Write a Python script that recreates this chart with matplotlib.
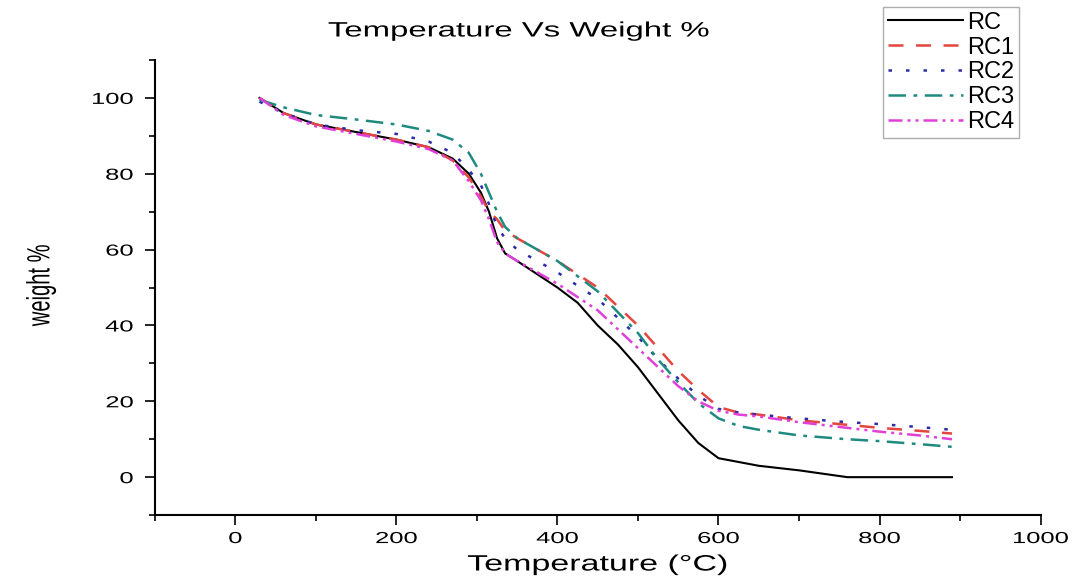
import matplotlib.pyplot as plt
from matplotlib.ticker import MultipleLocator
from matplotlib.patheffects import AbstractPathEffect
from matplotlib.transforms import Affine2D

plt.rcParams['font.family'] = ['Liberation Sans', 'DejaVu Sans']

# temperature points (C)
temp = [30, 60, 100, 150, 200, 240, 270, 290, 305, 315, 325, 335, 350, 375, 400, 425, 450, 475, 500,
        525, 550, 575, 600, 625, 650, 700, 760, 800, 850, 890]

rc = [100, 96, 93, 91, 89, 87, 84, 80, 75, 70, 63, 59, 57, 53.5, 50, 46, 40, 35, 29,
      22, 15, 9, 5, 4, 3, 1.8, 0, 0, 0, 0]
rc1 = [100, 96, 93, 91, 89, 87, 83.5, 79, 74, 70, 68, 65, 63, 60, 57, 53.5, 50, 45, 40,
       34, 28, 23, 18.5, 17, 16.5, 15, 13.8, 13, 12.2, 11.5]
rc2 = [99, 96, 93, 91.5, 90.5, 88.5, 85.5, 81, 77, 72, 66, 63, 60, 57, 54, 50.5, 47, 42, 37,
       31, 26, 21.5, 18, 17, 16.5, 15.5, 14.5, 14, 13.2, 12.5]
rc3 = [99.5, 97.5, 95.5, 94.3, 93, 91.3, 89, 85.5, 80, 75, 70, 66, 63, 60, 57, 53, 49, 43.5, 38,
       31, 25, 19.5, 15.5, 13.5, 12.5, 11, 10, 9.5, 8.7, 8]
rc4 = [100, 95.5, 92.5, 90.5, 88.5, 86.5, 83.5, 78, 73, 68, 62, 59, 57, 54, 51, 47.5, 44, 39, 34,
       29, 24, 20, 17.5, 16.5, 16, 14.5, 13, 12, 11, 10]

labels = ["RC", "RC1", "RC2", "RC3", "RC4"]


class Stretch(AbstractPathEffect):
    # widen text glyphs sideways (the source picture is stretched)
    def __init__(self, sx, anchor="center"):
        super().__init__()
        self.sx = sx
        self.anchor = anchor

    def draw_path(self, renderer, gc, tpath, affine, rgbFace=None):
        ext = affine.transform_path(tpath).get_extents()
        if self.anchor == "right":
            cx = ext.x1
        elif self.anchor == "left":
            cx = ext.x0
        else:
            cx = (ext.x0 + ext.x1) / 2
        aff = affine + Affine2D().translate(-cx, 0).scale(self.sx, 1).translate(cx, 0)
        renderer.draw_path(gc, tpath, aff, rgbFace)


fig = plt.figure(figsize=(10.75, 5.88), dpi=100)
ax = fig.add_axes([0.144, 0.124, 0.824, 0.774])

ax.plot(temp, rc, color="black", lw=1.5, label=labels[0])
ax.plot(temp, rc1, color="#e5453f", lw=1.8, dashes=(6, 5), label=labels[1])
ax.plot(temp, rc2, color="#2c2ca8", lw=1.8, dashes=(1.4, 5.6), label=labels[2])
ax.plot(temp, rc3, color="#1f8a80", lw=1.8, dashes=(7, 3, 1.5, 3), label=labels[3])
ax.plot(temp, rc4, color="#e040d8", lw=1.8, dashes=(5.6, 2, 1.2, 2, 1.2, 2), label=labels[4])

ax.set_xlim(-100, 1000)
ax.set_ylim(-10, 110)
ax.xaxis.set_major_locator(MultipleLocator(200))
ax.xaxis.set_minor_locator(MultipleLocator(100))
ax.yaxis.set_major_locator(MultipleLocator(20))
ax.yaxis.set_minor_locator(MultipleLocator(10))
ax.set_yticks([0, 20, 40, 60, 80, 100])
ax.spines['top'].set_visible(False)
ax.spines['right'].set_visible(False)
ax.spines['left'].set_linewidth(1.5)
ax.spines['bottom'].set_linewidth(1.5)
ax.tick_params(which='major', direction='out', length=7.5, width=1.2, labelsize=11.5)
ax.tick_params(axis='y', which='major', pad=8)
ax.tick_params(axis='x', which='major', pad=4)
ax.tick_params(which='minor', direction='out', length=4, width=1.2)

for t in ax.xaxis.get_major_ticks():
    t.label1.set_path_effects([Stretch(1.6)])
for t in ax.yaxis.get_major_ticks():
    t.label1.set_path_effects([Stretch(1.6, "right")])

xl = ax.set_xlabel("Temperature (°C)", fontsize=16, labelpad=6)
xl.set_path_effects([Stretch(1.53)])
yl = ax.set_ylabel("weight %", fontsize=14.5)
yl.set_path_effects([Stretch(1.6)])
ax.yaxis.set_label_coords(-0.118, 0.505)
tt = fig.text(519 / 1075, 1 - 31 / 588, "Temperature Vs Weight %", fontsize=15, ha="center", va="center")
tt.set_path_effects([Stretch(1.58)])

leg = ax.legend(loc="upper left", bbox_to_anchor=(0.822, 1.1165), fontsize=17, handlelength=3.2,
                frameon=True, fancybox=False, borderpad=0.2, labelspacing=0.12, handletextpad=0.15,
                borderaxespad=0)
leg.get_frame().set_edgecolor("#999999")
leg.get_frame().set_linewidth(1.0)

fig.savefig("out.png", dpi=100)
